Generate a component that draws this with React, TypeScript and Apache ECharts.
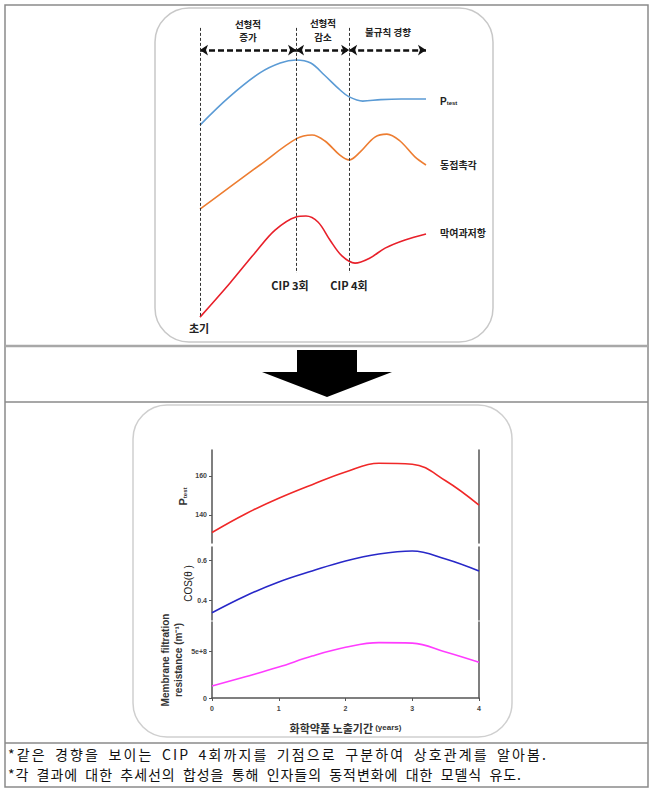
import React, { useEffect, useRef } from "react";
import * as echarts from "echarts";

// ---------- Schematic (top panel) ----------
const phaseBounds = [0, 4.25, 6.6, 10];
const phaseLabels = ["선형적\n증가", "선형적\n감소", "불규칙 경향"];
const eventLabels = ["초기", "CIP 3회", "CIP 4회"];
const curveLabels = ["P_test", "동접촉각", "막여과저항"];

const blueX = [0, 1.3, 2.65, 3.55, 4.25, 4.9, 5.5, 6.2, 6.6, 7.2, 8, 8.9, 10];
const blueY = [68.3, 77.7, 85.7, 89, 90, 89, 85, 80, 77.7, 76.3, 76.8, 77, 77];
const orangeX = [0, 1.33, 2.65, 4.25, 4.96, 5.53, 6.19, 6.6, 7.08, 7.74, 8.27, 8.85, 9.51, 10];
const orangeY = [40.3, 47.7, 55, 63.7, 65, 63, 58.3, 56.7, 59.3, 64.3, 65.3, 63, 57.7, 55];
const redX = [0, 1.33, 2.43, 3.32, 4.25, 4.69, 5.22, 5.75, 6.28, 6.86, 7.52, 8.19, 9.07, 10];
const redY = [4.3, 15.7, 25.7, 33.3, 37.7, 38, 36, 30, 24.7, 22.3, 24, 27.3, 30, 32];

// ---------- Fitted model (bottom panel) ----------
const years = [0, 0.5, 1, 1.5, 2, 2.5, 3, 3.5, 4];
const ptestValues = [131, 140.5, 148.5, 155.5, 162, 166.5, 166, 157.5, 145];
const cosValues = [0.336, 0.42, 0.49, 0.545, 0.595, 0.63, 0.645, 0.605, 0.545];
const resistanceValues = [1.28e8, 2.27e8, 3.3e8, 4.47e8, 5.4e8, 5.9e8, 5.85e8, 4.9e8, 3.8e8];
const ptestTicks = [140, 160];
const cosTicks = [0.4, 0.6];
const resTicks = [0, 5e8];

const notes = [
  "*같은 경향을 보이는 CIP 4회까지를 기점으로 구분하여 상호관계를 알아봄.",
  "*각 결과에 대한 추세선의 합성을 통해 인자들의 동적변화에 대한 모델식 유도.",
];
const noteEnds = [546, 521];

const KR = "'Noto Sans CJK KR', 'Noto Sans', sans-serif";
const pair = (xs: number[], ys: number[]) => xs.map((x, i) => [x, ys[i]]);

// lays a line out character by character with even letter spacing (the source uses spaced-out type)
function spreadChars(text: string, fontSize: number, x0: number, x1: number, y: number) {
  const ctx = document.createElement("canvas").getContext("2d");
  const chars = Array.from(text);
  const spaceW = fontSize * 0.45;
  let widths = chars.map((c) => (c === " " ? spaceW : /[\u3131-\uD7A3]/.test(c) ? fontSize : fontSize * 0.55));
  if (ctx) {
    ctx.font = `${fontSize}px 'Noto Sans CJK KR'`;
    widths = chars.map((c) => (c === " " ? spaceW : ctx.measureText(c).width));
  }
  const total = widths.reduce((a, b) => a + b, 0);
  const slots = Math.max(1, chars.length - 1);
  const ls = (x1 - x0 - total) / slots;
  let x = x0;
  const out: any[] = [];
  chars.forEach((c, i) => {
    if (c !== " ") {
      out.push({
        type: "text",
        style: { text: c, x, y, verticalAlign: "middle", fontSize, fill: "#111", fontFamily: KR },
      });
    }
    x += widths[i] + ls;
  });
  return out;
}

function headerLines(label: string, x: number, yTop: number, step: number) {
  return label.split("\n").map((line, i) => ({
    type: "text",
    style: { text: line, x, y: yTop + i * step, align: "center", verticalAlign: "middle", fontSize: 9.5, fontWeight: "bold", fill: "#222", fontFamily: KR },
  }));
}

export default function App() {
  const ref = useRef<HTMLDivElement>(null);
  useEffect(() => {
    if (!ref.current) return;
    const chart = echarts.init(ref.current, undefined, { renderer: "svg" });
    const axisColor = "#555";
    const tickLabel = { fontSize: 7, fontWeight: "bold", color: "#444", fontFamily: "Arial, 'Liberation Sans', sans-serif" };
    const rightAxis = (gi: number, min: number, max: number) => ({
      gridIndex: gi, type: "value", position: "right", min, max,
      axisLine: { show: true, onZero: false, lineStyle: { color: axisColor, width: 1.5 } },
      axisTick: { show: false }, axisLabel: { show: false }, splitLine: { show: false },
    });
    const leftAxis = (gi: number, min: number, max: number, ticks: number[], fmt: (v: number) => string, name: string, nameGap: number, nameTextStyle: any) => ({
      gridIndex: gi, type: "value", min, max,
      axisLine: { show: true, onZero: false, lineStyle: { color: axisColor, width: 1.5 } },
      axisTick: { show: true, length: 3, customValues: ticks, lineStyle: { color: axisColor } },
      axisLabel: { ...tickLabel, margin: 5, customValues: ticks, formatter: fmt },
      splitLine: { show: false },
      name, nameLocation: "middle", nameGap, nameTextStyle,
    });

    const option: any = {
      animation: false,
      backgroundColor: "#fff",
      grid: [
        { left: 200, top: 24, width: 226, height: 306 },
        { left: 212, top: 450, width: 267, height: 93 },
        { left: 212, top: 547, width: 267, height: 73 },
        { left: 212, top: 622, width: 267, height: 76 },
      ],
      xAxis: [
        { gridIndex: 0, type: "value", min: 0, max: 10, show: false },
        { gridIndex: 1, type: "value", min: 0, max: 4, show: false },
        { gridIndex: 2, type: "value", min: 0, max: 4, show: false },
        {
          gridIndex: 3, type: "value", min: 0, max: 4, interval: 1,
          axisLine: { show: true, onZero: false, lineStyle: { color: axisColor, width: 1.5 } },
          axisTick: { show: true, length: 3, lineStyle: { color: axisColor } },
          axisLabel: { ...tickLabel, margin: 7 },
          splitLine: { show: false },
          name: "{a|화학약품 노출기간}{b| (years)}",
          nameLocation: "middle", nameGap: 24,
          nameTextStyle: {
            rich: {
              a: { fontSize: 11, fontWeight: "bold", color: "#333", fontFamily: KR },
              b: { fontSize: 8, fontWeight: "bold", color: "#333", fontFamily: "Arial, sans-serif" },
            },
          },
        },
      ],
      yAxis: [
        { gridIndex: 0, type: "value", min: 0, max: 102, show: false },
        leftAxis(1, 125.6, 173.3, ptestTicks, (v: number) => String(v), "{a|P}{b|test}", 24, {
          rich: {
            a: { fontSize: 11, fontWeight: "bold", color: "#333", fontFamily: "Arial, sans-serif", verticalAlign: "bottom", lineHeight: 13 },
            b: { fontSize: 6, fontWeight: "bold", color: "#333", fontFamily: "Arial, sans-serif", verticalAlign: "bottom", lineHeight: 10 },
          },
        }),
        rightAxis(1, 125.6, 173.3),
        leftAxis(2, 0.3, 0.665, cosTicks, (v: number) => v.toFixed(1), "COS(θ )", 19, {
          fontSize: 10, color: "#222", fontFamily: "Arial, sans-serif",
        }),
        rightAxis(2, 0.3, 0.665),
        leftAxis(3, 0, 8.1e8, resTicks, (v: number) => (v === 0 ? "0" : "5e+8"), "Membrane filtration\nresistance (m⁻¹)", 27, {
          fontSize: 10, fontWeight: "bold", color: "#333", lineHeight: 13, fontFamily: "Arial, 'Liberation Sans', sans-serif",
        }),
        rightAxis(3, 0, 8.1e8),
      ],
      series: [
        {
          type: "line", xAxisIndex: 0, yAxisIndex: 0, data: pair(blueX, blueY), smooth: 0.35, symbol: "none",
          lineStyle: { color: "#5b9bd5", width: 1.6 },
          markLine: {
            silent: true, symbol: ["arrow", "arrow"], symbolSize: 8, label: { show: false },
            lineStyle: { color: "#111", type: [6, 3], width: 2.5 },
            emphasis: { disabled: true },
            data: phaseBounds.slice(0, -1).map((b, i) => [
              { coord: [b, 93.3] }, { coord: [phaseBounds[i + 1], 93.3] },
            ]),
          },
        },
        {
          type: "line", xAxisIndex: 0, yAxisIndex: 0, data: pair(orangeX, orangeY), smooth: 0.35, symbol: "none",
          lineStyle: { color: "#ed7d31", width: 1.6 },
          markLine: {
            silent: true, symbol: "none", label: { show: false },
            lineStyle: { color: "#333", type: [3, 2], width: 1 },
            emphasis: { disabled: true },
            data: [
              [{ coord: [phaseBounds[0], 100.7] }, { coord: [phaseBounds[0], 4.3] }],
              [{ coord: [phaseBounds[1], 100.7] }, { coord: [phaseBounds[1], 19] }],
              [{ coord: [phaseBounds[2], 100.7] }, { coord: [phaseBounds[2], 19] }],
            ],
          },
        },
        {
          type: "line", xAxisIndex: 0, yAxisIndex: 0, data: pair(redX, redY), smooth: 0.35, symbol: "none",
          lineStyle: { color: "#e8202a", width: 1.6 },
        },
        {
          type: "line", xAxisIndex: 1, yAxisIndex: 1, data: pair(years, ptestValues), smooth: 0.4, symbol: "none",
          lineStyle: { color: "#f02828", width: 1.6 },
        },
        {
          type: "line", xAxisIndex: 2, yAxisIndex: 3, data: pair(years, cosValues), smooth: 0.4, symbol: "none",
          lineStyle: { color: "#2828c8", width: 1.6 },
        },
        {
          type: "line", xAxisIndex: 3, yAxisIndex: 5, data: pair(years, resistanceValues), smooth: 0.4, symbol: "none",
          lineStyle: { color: "#ff3cff", width: 1.6 },
        },
      ],
      graphic: [
        // table frame
        { type: "rect", z: -10, shape: { x: 5, y: 5, width: 643, height: 782 }, style: { fill: "none", stroke: "#8a8a8a", lineWidth: 1.5 } },
        { type: "line", z: -10, shape: { x1: 5, y1: 346, x2: 648, y2: 346 }, style: { stroke: "#a8a8a8", lineWidth: 2.5 } },
        { type: "line", z: -10, shape: { x1: 5, y1: 402, x2: 648, y2: 402 }, style: { stroke: "#8a8a8a", lineWidth: 1.5 } },
        { type: "line", z: -10, shape: { x1: 5, y1: 743, x2: 648, y2: 743 }, style: { stroke: "#8a8a8a", lineWidth: 1.5 } },
        // rounded boxes
        { type: "rect", z: -9, shape: { x: 155, y: 8, width: 338, height: 334, r: 34 }, style: { fill: "none", stroke: "#c8c8c8", lineWidth: 1.5 } },
        { type: "rect", z: -9, shape: { x: 133, y: 405, width: 379, height: 332, r: 34 }, style: { fill: "none", stroke: "#cfcfcf", lineWidth: 1.5 } },
        // big arrow
        {
          type: "polygon", z: -5,
          shape: { points: [[297, 350], [357, 350], [357, 372], [392, 372], [327, 397], [262, 372], [297, 372]] },
          style: { fill: "#000" },
        },
        // phase headers
        ...headerLines(phaseLabels[0], 248, 23.5, 13.5),
        ...headerLines(phaseLabels[1], 323, 23, 13.5),
        ...headerLines(phaseLabels[2], 388, 32, 13.5),
        // curve labels
        {
          type: "text",
          style: {
            text: "{a|P}{b|test}", x: 440, y: 100, verticalAlign: "middle",
            rich: {
              a: { fontSize: 10, fontWeight: "bold", fill: "#222", fontFamily: "Arial, sans-serif", verticalAlign: "bottom", lineHeight: 12 },
              b: { fontSize: 6, fontWeight: "bold", fill: "#222", fontFamily: "Arial, sans-serif", verticalAlign: "bottom", lineHeight: 9 },
            },
          },
        },
        { type: "text", style: { text: curveLabels[1], x: 440, y: 164, verticalAlign: "middle", fontSize: 10, fontWeight: "bold", fill: "#222", fontFamily: KR } },
        { type: "text", style: { text: curveLabels[2], x: 440, y: 232, verticalAlign: "middle", fontSize: 10, fontWeight: "bold", fill: "#222", fontFamily: KR } },
        // event labels
        { type: "text", style: { text: eventLabels[0], x: 199, y: 328, align: "center", verticalAlign: "middle", fontSize: 11, fontWeight: "bold", fill: "#222", fontFamily: KR } },
        { type: "text", style: { text: eventLabels[1], x: 290, y: 285, align: "center", verticalAlign: "middle", fontSize: 11, fontWeight: "bold", fill: "#222", fontFamily: KR } },
        { type: "text", style: { text: eventLabels[2], x: 349, y: 285, align: "center", verticalAlign: "middle", fontSize: 11, fontWeight: "bold", fill: "#222", fontFamily: KR } },
        // notes
        ...spreadChars(notes[0], 14, 8, noteEnds[0], 754),
        ...spreadChars(notes[1], 14, 8, noteEnds[1], 774),
      ],
    };
    chart.setOption(option);
    return () => chart.dispose();
  }, []);
  return <div ref={ref} style={{ position: "absolute", left: 0, top: 0, width: 658, height: 791 }} />;
}
